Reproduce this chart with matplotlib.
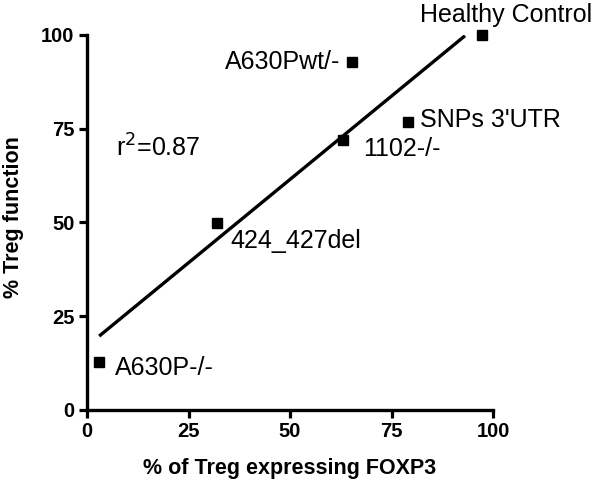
import matplotlib.pyplot as plt

plt.rcParams['font.family'] = ['Liberation Sans', 'DejaVu Sans']

# data
names = ["Healthy Control", "A630Pwt/-", "SNPs 3'UTR", "1102-/-", "424_427del", "A630P-/-"]
foxp3 = [97.2, 65.2, 79.1, 63.1, 31.9, 3.0]
treg_fn = [100.0, 92.7, 76.9, 72.0, 49.9, 12.9]

fit_x = [3.0, 93.1]
fit_y = [19.7, 99.8]

ticks = [0, 25, 50, 75, 100]

# where each label sits relative to its point (x, y, alignment)
label_pos = [(82.0, 105.3, 'left'), (62.5, 92.7, 'right'), (82.0, 77.3, 'left'),
             (68.0, 69.5, 'left'), (35.2, 45.0, 'left'), (6.9, 11.3, 'left')]

fig = plt.figure(figsize=(6, 4.84), dpi=100)
ax = fig.add_axes([0.145, 0.1529, 0.6767, 0.7748])

ax.plot(fit_x, fit_y, color='black', lw=2.4, solid_capstyle='butt')
ax.plot(foxp3, treg_fn, 's', color='black', ms=7.5, clip_on=False)

for name, (lx, ly, ha) in zip(names, label_pos):
    ax.text(lx, ly, name, ha=ha, va='center', fontsize=18, clip_on=False)

ax.text(7.1, 69.9, r'r$^2$=0.87', ha='left', va='center', fontsize=18)

ax.set_xlim(0, 100)
ax.set_ylim(0, 100)
ax.set_xticks(ticks)
ax.set_yticks(ticks)
for lbl in ax.get_xticklabels() + ax.get_yticklabels():
    lbl.set_fontweight('bold')
ax.tick_params(axis='both', direction='out', length=6, width=2.3, labelsize=14.5, pad=3)

for side in ['top', 'right']:
    ax.spines[side].set_visible(False)
for side in ['left', 'bottom']:
    ax.spines[side].set_linewidth(2.4)

ax.set_xlabel('% of Treg expressing FOXP3', fontsize=15.5, fontweight='bold', va='center')
ax.set_ylabel('% Treg function', fontsize=15.5, fontweight='bold', va='center')
ax.xaxis.set_label_coords(0.5, -0.155)
ax.yaxis.set_label_coords(-0.182, 0.515)

plt.savefig('out.png')
